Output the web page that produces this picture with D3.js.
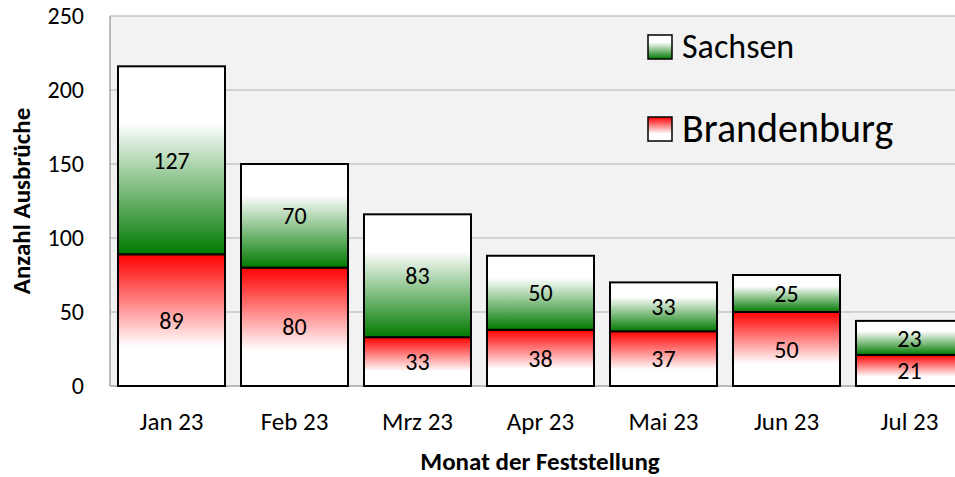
<!DOCTYPE html>
<html>
<head>
<meta charset="utf-8">
<script src="https://cdn.jsdelivr.net/npm/d3@7"></script>
<style>
  body { margin: 0; background: #fff; }
  text { font-family: Carlito, Calibri, Lato, "Open Sans", sans-serif; }
</style>
</head>
<body>
<div id="chart"></div>
<script>
var months = ["Jan 23", "Feb 23", "Mrz 23", "Apr 23", "Mai 23", "Jun 23", "Jul 23"];
var brandenburg = [89, 80, 33, 38, 37, 50, 21];
var sachsen = [127, 70, 83, 50, 33, 25, 23];
var yTicks = [0, 50, 100, 150, 200, 250];

var width = 955, height = 477;
var plotLeft = 110, plotTop = 16, plotRight = 971, plotBottom = 386;

var svg = d3.select("#chart").append("svg")
    .attr("width", width)
    .attr("height", height);

var defs = svg.append("defs");

var redGrad = defs.append("linearGradient")
    .attr("id", "gradRed")
    .attr("x1", 0).attr("y1", 0).attr("x2", 0).attr("y2", 1);
redGrad.append("stop").attr("offset", "0%").attr("stop-color", "#ff0000");
redGrad.append("stop").attr("offset", "70%").attr("stop-color", "#ffffff");
redGrad.append("stop").attr("offset", "100%").attr("stop-color", "#ffffff");

var greenGrad = defs.append("linearGradient")
    .attr("id", "gradGreen")
    .attr("x1", 0).attr("y1", 1).attr("x2", 0).attr("y2", 0);
greenGrad.append("stop").attr("offset", "0%").attr("stop-color", "#007a00");
greenGrad.append("stop").attr("offset", "70%").attr("stop-color", "#ffffff");
greenGrad.append("stop").attr("offset", "100%").attr("stop-color", "#ffffff");

var x = d3.scaleBand()
    .domain(months)
    .range([plotLeft, plotRight])
    .paddingInner(0.13)
    .paddingOuter(0.065);

var y = d3.scaleLinear()
    .domain([0, 250])
    .range([plotBottom, plotTop]);

// plot background
svg.append("rect")
    .attr("x", plotLeft).attr("y", plotTop)
    .attr("width", plotRight - plotLeft).attr("height", plotBottom - plotTop)
    .attr("fill", "#f2f2f2");

// gridlines
svg.append("g").selectAll("line")
    .data(yTicks.slice(1))
    .enter().append("line")
    .attr("x1", plotLeft).attr("x2", plotRight)
    .attr("y1", function(d) { return y(d); })
    .attr("y2", function(d) { return y(d); })
    .attr("stroke", "#c6c6c6")
    .attr("stroke-width", 1.5);

// axis lines
svg.append("line")
    .attr("x1", plotLeft).attr("x2", plotLeft)
    .attr("y1", plotTop).attr("y2", plotBottom)
    .attr("stroke", "#a6a6a6").attr("stroke-width", 1.5);
svg.append("line")
    .attr("x1", plotLeft).attr("x2", plotRight)
    .attr("y1", plotBottom).attr("y2", plotBottom)
    .attr("stroke", "#a6a6a6").attr("stroke-width", 1.5);

// y axis
var yAxis = svg.append("g")
    .attr("transform", "translate(" + plotLeft + ",0)")
    .call(d3.axisLeft(y).tickValues(yTicks).tickSize(0).tickPadding(26));
yAxis.select(".domain").remove();
yAxis.selectAll("text")
    .attr("font-size", "24px")
    .attr("fill", "#000");

// x axis
var xAxis = svg.append("g")
    .attr("transform", "translate(0," + plotBottom + ")")
    .call(d3.axisBottom(x).tickSize(0).tickPadding(26));
xAxis.select(".domain").remove();
xAxis.selectAll("text")
    .attr("font-size", "25px")
    .attr("fill", "#000");

// bars
var bars = svg.append("g").selectAll("g")
    .data(months)
    .enter().append("g");

bars.append("rect")
    .attr("x", function(d) { return x(d); })
    .attr("y", function(d, i) { return y(brandenburg[i]); })
    .attr("width", x.bandwidth())
    .attr("height", function(d, i) { return y(0) - y(brandenburg[i]); })
    .attr("fill", "url(#gradRed)")
    .attr("stroke", "#000")
    .attr("stroke-width", 2);

bars.append("rect")
    .attr("x", function(d) { return x(d); })
    .attr("y", function(d, i) { return y(brandenburg[i] + sachsen[i]); })
    .attr("width", x.bandwidth())
    .attr("height", function(d, i) { return y(brandenburg[i]) - y(brandenburg[i] + sachsen[i]); })
    .attr("fill", "url(#gradGreen)")
    .attr("stroke", "#000")
    .attr("stroke-width", 2);

// labels
bars.append("text")
    .attr("x", function(d) { return x(d) + x.bandwidth() / 2; })
    .attr("y", function(d, i) { return y(brandenburg[i] / 2); })
    .attr("dy", "0.36em")
    .attr("text-anchor", "middle")
    .attr("font-size", "24px")
    .text(function(d, i) { return brandenburg[i]; });

bars.append("text")
    .attr("x", function(d) { return x(d) + x.bandwidth() / 2; })
    .attr("y", function(d, i) { return y(brandenburg[i] + sachsen[i] / 2); })
    .attr("dy", "0.36em")
    .attr("text-anchor", "middle")
    .attr("font-size", "24px")
    .text(function(d, i) { return sachsen[i]; });

// axis titles
svg.append("text")
    .attr("transform", "translate(30," + ((plotTop + plotBottom) / 2) + ") rotate(-90)")
    .attr("text-anchor", "middle")
    .attr("font-size", "25px")
    .attr("font-weight", "bold")
    .text("Anzahl Ausbrüche");

svg.append("text")
    .attr("x", 540)
    .attr("y", 470)
    .attr("text-anchor", "middle")
    .attr("font-size", "25px")
    .attr("font-weight", "bold")
    .text("Monat der Feststellung");

// legend
var legend = [
    { name: "Sachsen", fill: "url(#gradGreen)", y: 35, base: 58, size: 34 },
    { name: "Brandenburg", fill: "url(#gradRed)", y: 117, base: 142, size: 40 }
];
var lg = svg.append("g").selectAll("g")
    .data(legend)
    .enter().append("g");
lg.append("rect")
    .attr("x", 648)
    .attr("y", function(d) { return d.y; })
    .attr("width", 24).attr("height", 24)
    .attr("fill", function(d) { return d.fill; })
    .attr("stroke", "#000")
    .attr("stroke-width", 1.5);
lg.append("text")
    .attr("x", 682)
    .attr("y", function(d) { return d.base; })
    .attr("font-size", function(d) { return d.size + "px"; })
    .text(function(d) { return d.name; });
</script>
</body>
</html>
